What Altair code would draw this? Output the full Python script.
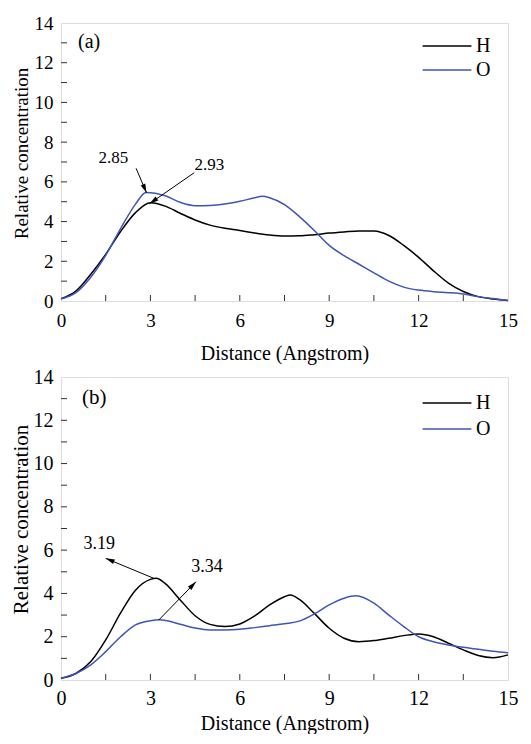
import math
import altair as alt
import pandas as pd

FONT = "Liberation Serif"
BLACK = "#000000"
BLUE = "#3f55b5"

# ---------------- panel (a) data ----------------
a_x = [0, 0.5, 1, 1.5, 2, 2.5, 3, 3.5, 4, 4.5, 5, 5.5, 6, 6.5, 7, 7.5,
       8, 8.5, 9, 9.5, 10, 10.5, 11, 11.5, 12, 12.5, 13, 13.5, 14, 14.5, 15]
a_H = [0.12, 0.5, 1.35, 2.35, 3.5, 4.45, 4.95, 4.78, 4.42, 4.08, 3.82, 3.66,
       3.55, 3.42, 3.32, 3.27, 3.28, 3.34, 3.42, 3.48, 3.53, 3.52, 3.3, 2.8,
       2.2, 1.52, 0.9, 0.48, 0.22, 0.1, 0.03]
a_O_x = [0, 0.5, 1, 1.5, 2, 2.5, 2.85, 3.5, 4, 4.5, 5, 5.5, 6, 6.5, 6.75, 7,
         7.5, 8, 8.5, 9, 9.5, 10, 10.5, 11, 11.5, 12, 12.5, 13, 13.5, 14, 14.5, 15]
a_O = [0.1, 0.42, 1.2, 2.3, 3.65, 4.88, 5.47, 5.3, 4.97, 4.8, 4.81, 4.88,
       5.02, 5.2, 5.27, 5.2, 4.85, 4.25, 3.55, 2.8, 2.28, 1.85, 1.42, 1.0, 0.7,
       0.55, 0.47, 0.42, 0.35, 0.22, 0.12, 0.03]

# annotations (a): label, text position, arrow start, arrow tip (data units)
a_ann_label = ["2.85", "2.93"]
a_ann_tx = [1.76, 4.98]
a_ann_ty = [7.18, 6.85]
a_arr_x0 = [2.52, 4.47]
a_arr_y0 = [6.68, 6.46]
a_arr_x1 = [2.87, 2.97]
a_arr_y1 = [5.45, 4.90]

# ---------------- panel (b) data ----------------
b_H_x = [0, 0.5, 1, 1.5, 2, 2.5, 3, 3.2, 3.5, 4, 4.5, 5, 5.5, 6, 6.5, 7, 7.5,
         7.7, 8, 8.5, 9, 9.5, 10, 10.5, 11, 11.5, 12, 12.5, 13, 13.5, 14, 14.5, 15]
b_H = [0.08, 0.3, 0.85, 1.85, 3.1, 4.15, 4.65, 4.7, 4.45, 3.7, 2.97, 2.57,
       2.47, 2.59, 2.96, 3.47, 3.85, 3.93, 3.72, 3.08, 2.39, 1.93, 1.77, 1.82,
       1.93, 2.05, 2.13, 2.0, 1.7, 1.39, 1.13, 1.03, 1.16]
b_O_x = [0, 0.5, 1, 1.5, 2, 2.5, 3, 3.3, 3.5, 4, 4.5, 5, 5.5, 6, 6.5, 7, 7.5,
         8, 8.5, 9, 9.5, 9.9, 10.5, 11, 11.5, 12, 12.5, 13, 13.5, 14, 14.5, 15]
b_O = [0.08, 0.3, 0.7, 1.31, 2.0, 2.55, 2.74, 2.78, 2.75, 2.58, 2.4, 2.31,
       2.31, 2.34, 2.42, 2.51, 2.6, 2.72, 3.05, 3.47, 3.78, 3.89, 3.55, 3.0,
       2.47, 2.0, 1.77, 1.62, 1.51, 1.42, 1.33, 1.26]

b_ann_label = ["3.19", "3.34"]
b_ann_tx = [1.28, 4.9]
b_ann_ty = [6.3, 5.22]
b_arr_x0 = [3.11, 3.28]
b_arr_y0 = [4.70, 2.77]
b_arr_x1 = [1.50, 4.53]
b_arr_y1 = [5.62, 4.54]

# axis ticks
x_labels = [0, 3, 6, 9, 12, 15]
x_ticks = [1.5, 3, 4.5, 6, 7.5, 9, 10.5, 12, 13.5]
y_labels = [0, 2, 4, 6, 8, 10, 12, 14]
y_ticks = [1, 2, 3, 4, 5, 6, 7, 8, 9, 10, 11, 12, 13]

XMAX, YMAX = 15, 14
HEAD_PATH = "M0,-1L-0.55,1L0.55,1Z"
HEAD_SIZE = 81  # sqrt(81)/2 = 4.5 px from centre to tip


def panel(hx, hy, ox, oy, W, H, tag, tagx, tagy, ann, arr, fs):
    xscale = alt.Scale(domain=[0, XMAX], nice=False, zero=False)
    yscale = alt.Scale(domain=[0, YMAX], nice=False, zero=False)

    df = pd.DataFrame({
        "x": list(hx) + list(ox),
        "y": list(hy) + list(oy),
        "s": ["H"] * len(hx) + ["O"] * len(ox),
    })

    lines = alt.Chart(df).mark_line(strokeWidth=1.5, interpolate="monotone").encode(
        x=alt.X("x:Q", scale=xscale,
                axis=alt.Axis(values=x_labels, ticks=False, domain=False, grid=False,
                              labelFlush=False, labelOverlap=False, labelFont=FONT,
                              labelFontSize=fs["tick"], labelColor=BLACK,
                              labelPadding=fs["xlp"],
                              title="Distance (Angstrom)", titleFont=FONT,
                              titleFontSize=fs["title"], titleFontWeight="normal",
                              titleColor=BLACK, titlePadding=fs["xtp"])),
        y=alt.Y("y:Q", scale=yscale,
                axis=alt.Axis(values=y_labels, tickCount=8, ticks=False, domain=False,
                              grid=False, labelOverlap=False, labelFont=FONT,
                              labelFontSize=fs["tick"], labelColor=BLACK,
                              labelPadding=8, title="Relative concentration",
                              titleFont=FONT, titleFontSize=fs["ytitle"],
                              titleFontWeight="normal", titleColor=BLACK,
                              titlePadding=fs["ytp"], titleY=fs["titleY"])),
        color=alt.Color("s:N",
                        scale=alt.Scale(domain=["H", "O"], range=[BLACK, BLUE]),
                        legend=alt.Legend(orient="none", legendX=fs["lx"], legendY=fs["ly"],
                                          title=None, symbolType="M-3.15,0H3.15",
                                          symbolSize=240, symbolStrokeWidth=1.5,
                                          symbolOffset=0, labelFont=FONT, labelFontSize=20,
                                          labelColor=BLACK, labelOffset=fs["lo"],
                                          rowPadding=fs["rp"], padding=0)),
    )

    # inward ticks
    xt = pd.DataFrame({"x": x_ticks})
    xtick = alt.Chart(xt).mark_rule(color="#333333", strokeWidth=1).encode(
        x=alt.X("x:Q", scale=xscale), y=alt.value(H), y2=alt.value(H - 6))
    yt = pd.DataFrame({"y": y_ticks})
    ytick = alt.Chart(yt).mark_rule(color="#333333", strokeWidth=1).encode(
        y=alt.Y("y:Q", scale=yscale), x=alt.value(0), x2=alt.value(6))

    # arrows
    x0s, y0s, x1s, y1s = arr
    rows, heads = [], []
    for x0, y0, x1, y1 in zip(x0s, y0s, x1s, y1s):
        dx = (x1 - x0) * W / XMAX
        dy = -(y1 - y0) * H / YMAX
        L = math.hypot(dx, dy)
        ux, uy = dx / L, dy / L
        ang = math.degrees(math.atan2(ux, -uy)) % 360
        cx = x1 - 4.5 * ux * XMAX / W
        cy = y1 + 4.5 * uy * YMAX / H
        rows.append({"x": x0, "y": y0, "xe": x1, "ye": y1})
        heads.append({"x": cx, "y": cy, "ang": ang})
    arr_df = pd.DataFrame(rows)
    head_df = pd.DataFrame(heads)
    arrow_lines = alt.Chart(arr_df).mark_rule(color=BLACK, strokeWidth=1).encode(
        x=alt.X("x:Q", scale=xscale), y=alt.Y("y:Q", scale=yscale),
        x2="xe:Q", y2="ye:Q")
    arrow_heads = alt.Chart(head_df).mark_point(
        filled=True, color=BLACK, opacity=1, shape=HEAD_PATH, size=HEAD_SIZE,
        strokeWidth=0).encode(
        x=alt.X("x:Q", scale=xscale), y=alt.Y("y:Q", scale=yscale),
        angle=alt.Angle("ang:Q", scale=None))

    lab, tx, ty = ann
    ann_df = pd.DataFrame({"x": tx, "y": ty, "t": lab})
    ann_text = alt.Chart(ann_df).mark_text(
        font=FONT, fontSize=fs["ann"], color=BLACK, align="center",
        baseline="middle").encode(
        x=alt.X("x:Q", scale=xscale), y=alt.Y("y:Q", scale=yscale), text="t:N")

    tag_text = alt.Chart(pd.DataFrame({"t": [tag]})).mark_text(
        font=FONT, fontSize=fs["tag"], color=BLACK, align="left",
        baseline="middle").encode(x=alt.value(tagx), y=alt.value(tagy), text="t:N")

    return alt.layer(lines, xtick, ytick, arrow_lines, arrow_heads, ann_text,
                     tag_text).properties(width=W, height=H)


fs_a = dict(tick=19, title=20, ytitle=19, xlp=10, xtp=13, ytp=3, titleY=130,
            lx=376, ly=13, lo=19, rp=4, ann=17, tag=20)
fs_b = dict(tick=20, title=20, ytitle=21, xlp=8, xtp=5, ytp=2, titleY=142,
            lx=376, ly=16, lo=19, rp=6, ann=18, tag=21)

pa = panel(a_x, a_H, a_O_x, a_O, 447, 278, "(a)", 17, 19,
           (a_ann_label, a_ann_tx, a_ann_ty),
           (a_arr_x0, a_arr_y0, a_arr_x1, a_arr_y1), fs_a)
pb = panel(b_H_x, b_H, b_O_x, b_O, 447, 303, "(b)", 21, 21,
           (b_ann_label, b_ann_tx, b_ann_ty),
           (b_arr_x0, b_arr_y0, b_arr_x1, b_arr_y1), fs_b)

chart = alt.vconcat(pa, pb, spacing=2).resolve_scale(
    color="independent").properties(
    padding={"left": 1, "top": 5, "right": 0, "bottom": 0}).configure_view(
    stroke="#333333", strokeWidth=1).configure_axis(
    labelOverlap=False, labelBound=False).configure(background="white")

chart.save("out.html", embed_options={"renderer": "svg", "actions": False})
